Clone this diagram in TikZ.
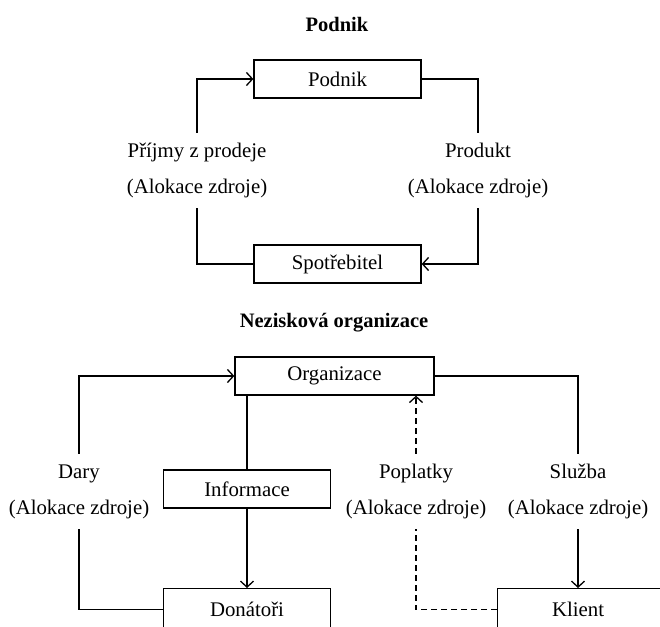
\documentclass[tikz,border=0pt]{standalone}
\usepackage{fontspec}
\setmainfont{Liberation Serif}
\usetikzlibrary{arrows.meta}
\begin{document}
\begin{tikzpicture}[x=1pt,y=-1pt,
  txt/.style={font=\fontsize{20.8}{36}\selectfont},
  box/.style={txt,draw,line width=1.3pt,minimum width=167pt,minimum height=38pt,inner sep=0pt},
  lbl/.style={txt,align=center,minimum height=75pt,inner sep=0pt},
  title/.style={font=\fontsize{20.5}{24}\selectfont\bfseries},
  conn/.style={line width=1.3pt},
  arr/.style={-{Straight Barb[length=6pt,width=13pt,line width=1.3pt]}},
  dsh/.style={dash pattern=on 6pt off 4pt}]
\useasboundingbox (0,0) rectangle (660,626);
\clip (0,0) rectangle (660,626);
% Podnik
\node[title] (t1) at (337,24) {Podnik};
\node[box] (pod) at (337.5,79) {Podnik};
\node[box] (spot) at (337.5,264) {Spotřebitel};
\node[lbl] (l1) at (197,170.5) {Příjmy z prodeje\\(Alokace zdroje)};
\node[lbl] (r1) at (478,170.5) {Produkt\\(Alokace zdroje)};
\draw[conn] (spot.west) -| (l1.south);
\draw[conn,arr] (l1.north) |- (pod.west);
\draw[conn] (pod.east) -| (r1.north);
\draw[conn,arr] (r1.south) |- (spot.east);
% Neziskova organizace
\node[title] (t2) at (334,323) {Nezisková organizace};
\node[box,minimum width=199pt] (org) at (334.5,376) {Organizace};
\node[box] (info) at (247,489) {Informace};
\node[box,minimum height=42pt,anchor=north] (don) at (247,588) {Donátoři};
\node[box,minimum height=42pt,anchor=north west] (kli) at (497,588) {\hspace*{-6pt}Klient};
\node[lbl] (dary) at (79,491.5) {Dary\\(Alokace zdroje)};
\node[lbl] (pop) at (416,491.5) {Poplatky\\(Alokace zdroje)};
\node[lbl] (slu) at (578,491.5) {Služba\\(Alokace zdroje)};
\draw[conn] (org.south -| info.north) -- (info.north);
\draw[conn,arr] (info.south) -- (don.north);
\draw[conn] (don.west) -| (dary.south);
\draw[conn,arr] (dary.north) |- (org.west);
\draw[conn,dsh] (kli.west) -| (pop.south);
\draw[conn,dsh,arr] (pop.north) -- (pop.north |- org.south);
\draw[conn] (org.east) -| (slu.north);
\draw[conn,arr] (slu.south) -- (slu.south |- kli.north);
\end{tikzpicture}
\end{document}
